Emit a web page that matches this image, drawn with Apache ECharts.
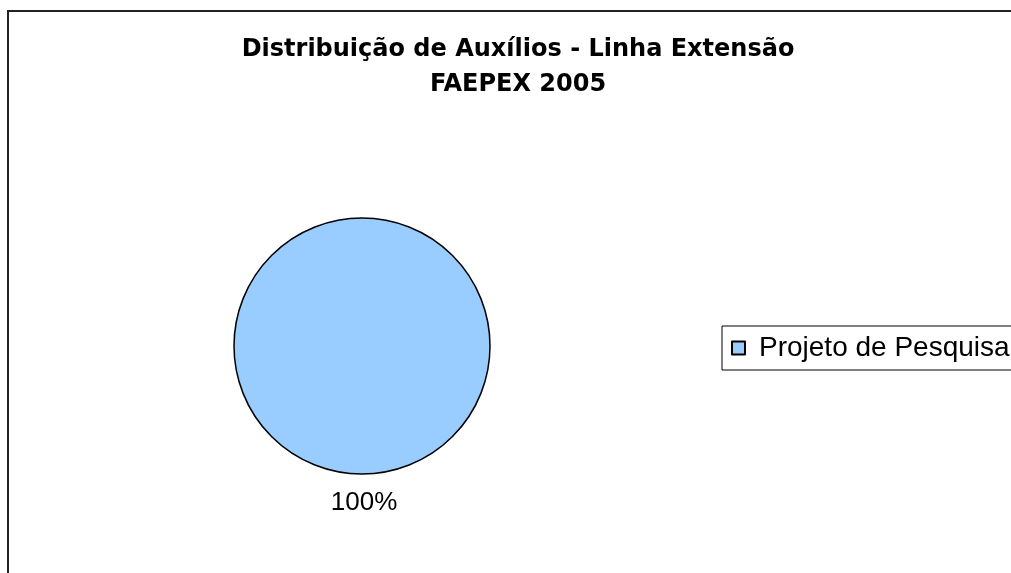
<!DOCTYPE html>
<html>
<head>
<meta charset="utf-8">
<script src="https://cdn.jsdelivr.net/npm/echarts@6/dist/echarts.min.js"></script>
<style>
  html, body { margin: 0; padding: 0; background: #fff; }
  #main { width: 1011px; height: 573px; }
</style>
</head>
<body>
<div id="main"></div>
<script>
// data
const categories = ['Projeto de Pesquisa'];
const values = [100];
const titleLines = ['Distribuição de Auxílios - Linha Extensão', 'FAEPEX 2005'];

var chart = echarts.init(document.getElementById('main'));
var option = {
  animation: false,
  textStyle: { fontFamily: 'Liberation Sans, Arial, sans-serif' },
  graphic: [
    {
      type: 'rect',
      shape: { x: 8, y: 11, width: 1100, height: 700 },
      style: { fill: 'none', stroke: '#222', lineWidth: 2 },
      silent: true
    }
  ],
  title: {
    text: titleLines.join('\n'),
    left: 513,
    textAlign: 'center',
    top: 27,
    textStyle: {
      fontSize: 24,
      fontWeight: 'bold',
      color: '#000',
      lineHeight: 35,
      fontFamily: 'DejaVu Sans, sans-serif'
    }
  },
  legend: {
    data: categories,
    orient: 'vertical',
    left: 722,
    top: 326,
    icon: 'rect',
    itemWidth: 13,
    itemHeight: 13,
    itemGap: 0,
    borderColor: '#000',
    borderWidth: 1,
    padding: [8, 60, 8, 9],
    textStyle: { fontSize: 28, color: '#000', fontFamily: 'Liberation Sans, Arial, sans-serif', padding: [0, 0, 0, 9] }
  },
  series: [
    {
      type: 'pie',
      center: [362, 346],
      radius: 128,
      startAngle: 90,
      data: categories.map((c, i) => ({ name: c, value: values[i] })),
      itemStyle: { color: '#99CCFF', borderColor: '#000', borderWidth: 1.5 },
      label: {
        show: true,
        position: 'outside',
        formatter: '{d}%',
        fontSize: 26,
        color: '#000',
        fontFamily: 'Liberation Sans, Arial, sans-serif'
      },
      labelLine: { show: false, length: 29, length2: 0 },
      labelLayout: function () {
        return { align: 'center', verticalAlign: 'middle', dx: 7 };
      },
      emphasis: { disabled: true }
    }
  ]
};
option && chart.setOption(option);
</script>
</body>
</html>
